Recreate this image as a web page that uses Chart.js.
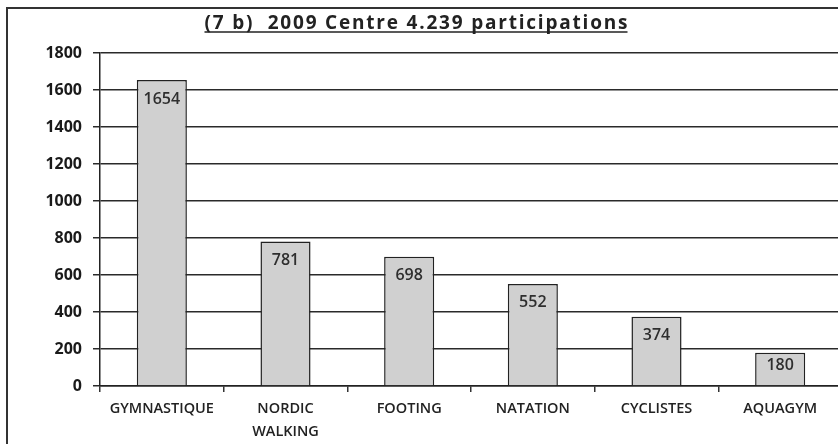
<!DOCTYPE html>
<html>
<head>
<meta charset="utf-8">
<script src="https://cdn.jsdelivr.net/npm/chart.js@4.4.1/dist/chart.umd.min.js"></script>
<style>
  html, body { margin: 0; padding: 0; background: #fff; overflow: hidden; }
  #wrap { position: relative; width: 846px; height: 444px; }
</style>
</head>
<body>
<div id="wrap"><canvas id="c"></canvas></div>
<script>
// Activities and number of participations
const titleText = "(7 b)  2009 Centre 4.239 participations";
const categories = ["GYMNASTIQUE", ["NORDIC", "WALKING"], "FOOTING", "NATATION", "CYCLISTES", "AQUAGYM"];
const participations = [1654, 781, 698, 552, 374, 180];
const yTicks = [0, 200, 400, 600, 800, 1000, 1200, 1400, 1600, 1800];

const ink = '#222';
const FONT = "'Open Sans', 'DejaVu Sans', sans-serif";

// Frame, underlined title and value labels inside each bar
const decorations = {
  id: 'decorations',
  beforeDraw(chart) {
    const ctx = chart.ctx;
    ctx.save();
    ctx.strokeStyle = '#333';
    ctx.lineWidth = 2;
    ctx.beginPath();
    ctx.moveTo(7, chart.height);
    ctx.lineTo(7, 8);
    ctx.lineTo(chart.width, 8);
    ctx.stroke();
    ctx.restore();
  },
  afterDatasetsDraw(chart) {
    const ctx = chart.ctx;
    ctx.save();
    // title, spread over a 423px line and underlined
    ctx.font = "bold 19px " + FONT;
    ctx.fillStyle = ink;
    ctx.textAlign = 'left';
    ctx.textBaseline = 'alphabetic';
    const cx = 416, by = 29, titleWidth = 423;
    const raw = ctx.measureText(titleText).width;
    const spacing = Math.max(0, (titleWidth - raw) / (titleText.length - 1));
    ctx.letterSpacing = spacing.toFixed(2) + 'px';
    const x0 = cx - titleWidth / 2;
    ctx.fillText(titleText, x0, by);
    ctx.letterSpacing = '0px';
    ctx.strokeStyle = ink;
    ctx.lineWidth = 1.5;
    ctx.beginPath();
    ctx.moveTo(x0, by + 3);
    ctx.lineTo(x0 + titleWidth, by + 3);
    ctx.stroke();

    // values
    const meta = chart.getDatasetMeta(0);
    const base = chart.scales.y.getPixelForValue(0);
    ctx.font = "600 16px " + FONT;
    ctx.fillStyle = '#2e2e2e';
    ctx.textAlign = 'center';
    ctx.textBaseline = 'middle';
    meta.data.forEach((bar, i) => {
      const h = base - bar.y;
      const off = Math.min(19, h / 2 - 4);
      ctx.fillText(String(participations[i]), bar.x, bar.y + off);
    });
    ctx.restore();
  }
};

new Chart(document.getElementById('c'), {
  type: 'bar',
  data: {
    labels: categories,
    datasets: [{
      data: participations,
      backgroundColor: '#d0d0d0',
      borderColor: '#222',
      borderWidth: 1.5,
      borderSkipped: 'bottom',
      categoryPercentage: 1,
      barPercentage: 0.405
    }]
  },
  options: {
    responsive: true,
    maintainAspectRatio: false,
    animation: false,
    layout: { padding: { top: 53, right: 4, bottom: 0, left: 0 } },
    plugins: {
      legend: { display: false },
      title: { display: false },
      tooltip: { enabled: false }
    },
    scales: {
      x: {
        offset: true,
        grid: {
          offset: true,
          drawOnChartArea: false,
          drawTicks: true,
          tickLength: 6,
          color: '#333',
          lineWidth: 1.5
        },
        border: { display: true, color: '#222', width: 1.5 },
        ticks: {
          color: ink,
          padding: 5,
          maxRotation: 0,
          autoSkip: false,
          font: { family: FONT, size: 14.5, weight: '600', lineHeight: 1.6 }
        },
        afterFit(scale) { scale.height = 58; }
      },
      y: {
        min: 0,
        max: 1800,
        afterBuildTicks(scale) { scale.ticks = yTicks.map(v => ({ value: v })); },
        grid: {
          color: '#2a2a2a',
          lineWidth: 1.5,
          drawTicks: true,
          tickLength: 7
        },
        border: { display: true, color: '#222', width: 1.5 },
        ticks: {
          color: '#1a1a1a',
          padding: 11,
          callback: v => String(v),
          font: { family: FONT, size: 16, weight: 'bold' }
        },
        afterFit(scale) { scale.width = 100; }
      }
    }
  },
  plugins: [decorations]
});
</script>
</body>
</html>
